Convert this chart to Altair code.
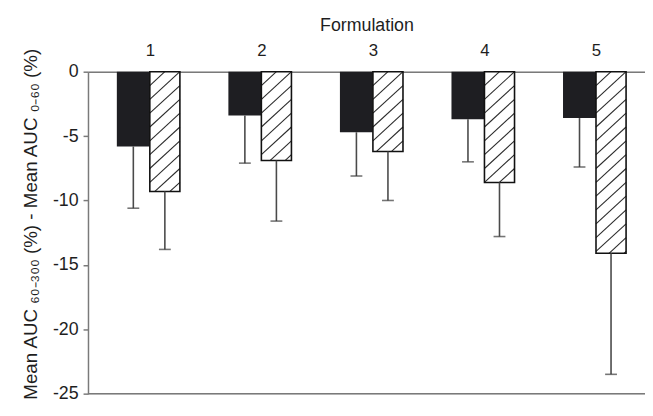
import altair as alt
import pandas as pd

# ---- data ----
categories = [1, 2, 3, 4, 5]
solid_mean = [-5.8, -3.4, -4.7, -3.7, -3.6]
solid_sd = [4.8, 3.7, 3.4, 3.3, 3.8]
hatched_mean = [-9.3, -6.9, -6.2, -8.6, -14.1]
hatched_sd = [4.5, 4.7, 3.8, 4.2, 9.4]
y_ticks = [0, -5, -10, -15, -20, -25]

# ---- layout / style ----
W, H = 564, 326
XMIN, XMAX = 0.49, 5.395
YMIN, YMAX = -25, 0
pxx = W / (XMAX - XMIN)
pxy = H / (YMAX - YMIN)
BW_SOLID = 34 / pxx
BW_HATCH = 31 / pxx
HATCH_SPACING = 14 / pxy
HATCH_RISE = 28 / pxy

bars = pd.DataFrame({
    "cat": categories * 2,
    "series": ["solid"] * 5 + ["hatched"] * 5,
    "mean": solid_mean + hatched_mean,
    "sd": solid_sd + hatched_sd,
})
bars["x0"] = [c - BW_SOLID if s == "solid" else c for c, s in zip(bars["cat"], bars["series"])]
bars["x1"] = [c if s == "solid" else c + BW_HATCH for c, s in zip(bars["cat"], bars["series"])]
bars["xc"] = (bars["x0"] + bars["x1"]) / 2
bars["low"] = bars["mean"] - bars["sd"]
bars["zero"] = 0

# hatch lines inside the hatched bars (clipped to each bar)
hrows = []
for c, v in zip(categories, hatched_mean):
    xl, xr = c, c + BW_HATCH
    k = 0
    while True:
        yl = HATCH_RISE - k * HATCH_SPACING
        if yl + HATCH_RISE < v:
            break
        tmin = max(0.0, (v - yl) / HATCH_RISE)
        tmax = min(1.0, (0 - yl) / HATCH_RISE)
        if tmin < tmax:
            hrows.append({
                "hx": xl + (xr - xl) * tmin, "hy": yl + HATCH_RISE * tmin,
                "hx2": xl + (xr - xl) * tmax, "hy2": yl + HATCH_RISE * tmax,
            })
        k += 1
hatch = pd.DataFrame(hrows)

AXIS_COLOR = "#7a7a7a"
TEXT_COLOR = "#1e1e1e"
FONT = "Liberation Sans"

xscale = alt.Scale(domain=[XMIN, XMAX], nice=False, zero=False)
yscale = alt.Scale(domain=[YMIN, YMAX], nice=False, zero=False)

x_axis = alt.Axis(orient="top", values=categories, format="d", ticks=False, grid=False,
                  title="Formulation", labelFontSize=17, titleFontSize=18,
                  titleFontWeight="normal", labelPadding=12, titlePadding=8,
                  domainColor=AXIS_COLOR, domainWidth=1.5,
                  labelColor=TEXT_COLOR, titleColor=TEXT_COLOR, labelFont=FONT, titleFont=FONT)
y_axis = alt.Axis(values=y_ticks, labelExpr="'' + datum.value", grid=False,
                  title="Mean AUC \u2086\u2080\u208b\u2083\u2080\u2080 (%) - Mean AUC \u2080\u208b\u2086\u2080 (%)",
                  tickSize=5, tickColor=AXIS_COLOR, tickWidth=1.5,
                  domainColor=AXIS_COLOR, domainWidth=1.5,
                  labelFontSize=18, titleFontSize=19, titleFontWeight="normal",
                  labelPadding=5, titleX=-48, titleY=154,
                  labelColor=TEXT_COLOR, titleColor=TEXT_COLOR, labelFont=FONT, titleFont=FONT)

X = lambda f: alt.X(f, type="quantitative", scale=xscale, axis=x_axis)
Y = lambda f: alt.Y(f, type="quantitative", scale=yscale, axis=y_axis)

base = alt.Chart(bars)

solid_bars = base.transform_filter("datum.series == 'solid'").mark_bar(
    color="#1e1e22", orient="vertical").encode(
    x=X("x0"), x2="x1", y=Y("mean"), y2="zero")

hatch_fill = base.transform_filter("datum.series == 'hatched'").mark_bar(
    color="white", orient="vertical").encode(
    x=X("x0"), x2="x1", y=Y("mean"), y2="zero")

hatch_lines = alt.Chart(hatch).mark_rule(color="#2a2a2a", strokeWidth=1.1).encode(
    x=X("hx"), y=Y("hy"), x2="hx2", y2="hy2")

hatch_outline = base.transform_filter("datum.series == 'hatched'").mark_bar(
    fillOpacity=0, fill="white", stroke="#111111", strokeWidth=1.6, orient="vertical").encode(
    x=X("x0"), x2="x1", y=Y("mean"), y2="zero")

err_lines = base.mark_rule(color="#4a4a4a", strokeWidth=1.6).encode(
    x=X("xc"), y=Y("mean"), y2="low")

err_caps = base.mark_tick(color="#3a3a3a", orient="horizontal", size=12, thickness=1.6).encode(
    x=X("xc"), y=Y("low"))

bottom_line = alt.Chart(pd.DataFrame({"b": [YMIN]})).mark_rule(
    color=AXIS_COLOR, strokeWidth=1.5).encode(y=Y("b"))

chart = alt.layer(
    solid_bars, hatch_fill, hatch_lines, hatch_outline, err_lines, err_caps, bottom_line
).properties(
    width=W, height=H,
    autosize=alt.AutoSizeParams(type="none"),
    padding={"left": 81, "top": 62, "right": 0, "bottom": 10},
).configure_view(stroke=None).configure(background="white")

chart.save("out.html", embed_options={"renderer": "svg", "actions": False})
